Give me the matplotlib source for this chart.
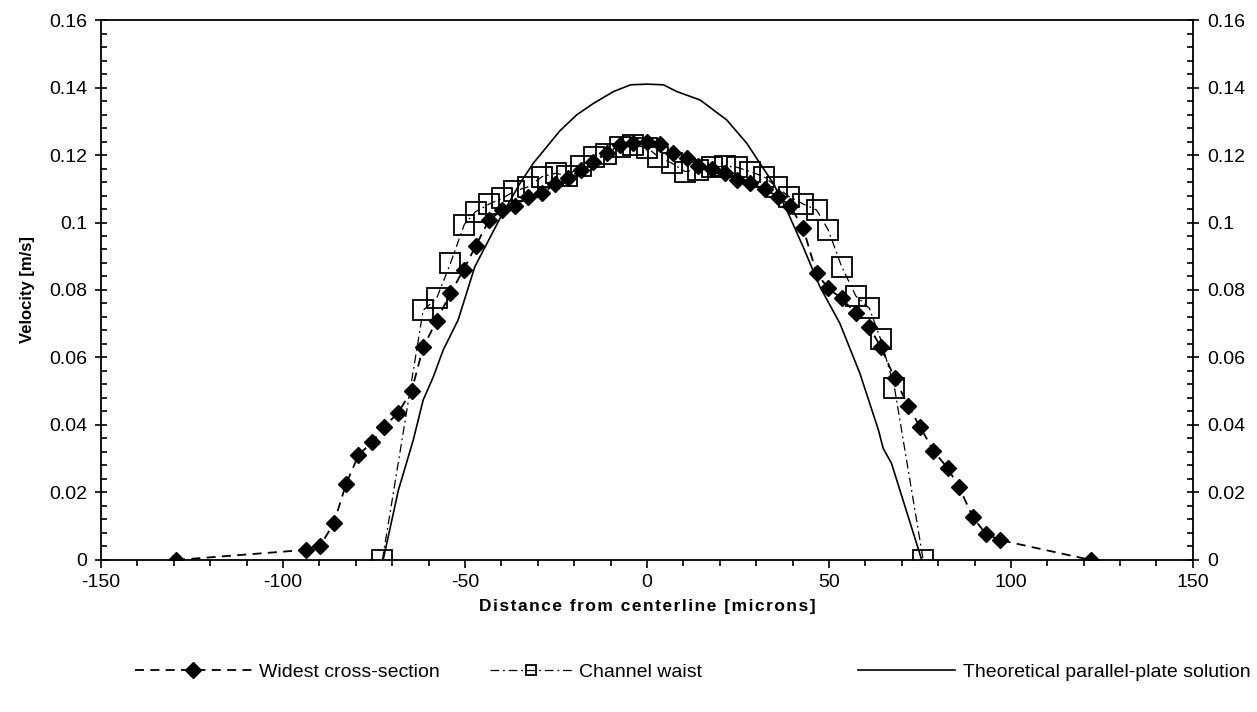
import numpy as np
import matplotlib
matplotlib.use("Agg")
from matplotlib import pyplot as plt
from matplotlib.ticker import MultipleLocator, FuncFormatter

plt.rcParams['font.family'] = ['Liberation Sans', 'DejaVu Sans']
plt.rcParams['axes.unicode_minus'] = False

# Widest cross-section (filled diamonds, dashed)
wide_x = [-129.4, -93.7, -89.8, -86.0, -82.7, -79.3, -75.5, -72.2, -68.5, -64.7,
          -61.5, -57.8, -54.0, -50.4, -47.1, -43.4, -39.8, -36.3, -32.6, -28.8,
          -25.3, -21.6, -18.0, -14.7, -11.1, -7.4, -3.8, -0.1, 3.6, 7.2,
          10.9, 14.1, 17.8, 21.4, 24.6, 28.3, 32.4, 36.1, 39.3, 42.9,
          46.6, 49.8, 53.5, 57.4, 61.1, 64.2, 68.1, 71.8, 75.0, 78.7,
          82.6, 85.8, 89.5, 93.1, 97.0, 122.0]
wide_v = [0.0, 0.003, 0.0042, 0.011, 0.0225, 0.031, 0.035, 0.0395, 0.0435, 0.050,
          0.063, 0.0709, 0.079, 0.086, 0.093, 0.1007, 0.1037, 0.105, 0.1076, 0.1087,
          0.1113, 0.1131, 0.1156, 0.118, 0.1205, 0.123, 0.1237, 0.124, 0.1233, 0.1207,
          0.119, 0.1167, 0.1158, 0.1146, 0.1126, 0.1116, 0.1099, 0.1076, 0.105, 0.0983,
          0.085, 0.0805, 0.0775, 0.0731, 0.069, 0.0632, 0.0538, 0.0456, 0.0395, 0.0324,
          0.0272, 0.0215, 0.0128, 0.0077, 0.0059, 0.0]

# Channel waist (open squares, dash-dot)
waist_x = [-72.7, -61.5, -57.8, -54.0, -50.2, -47.1, -43.3, -39.7, -36.5, -32.6,
           -28.8, -25.0, -22.1, -18.1, -14.5, -11.3, -7.4, -3.8, 0.0, 3.1,
           6.8, 10.4, 14.1, 17.8, 21.4, 24.6, 28.3, 32.1, 35.8, 39.1,
           42.9, 46.6, 49.8, 53.5, 57.4, 61.1, 64.2, 68.0, 75.9]
waist_v = [0.0, 0.074, 0.0775, 0.0879, 0.0994, 0.1032, 0.1055, 0.1072, 0.1092, 0.1106,
           0.1136, 0.1146, 0.1138, 0.1167, 0.1193, 0.1203, 0.1225, 0.123, 0.1222, 0.1195,
           0.1176, 0.1151, 0.1156, 0.1164, 0.1167, 0.1164, 0.1151, 0.1136, 0.1104, 0.1076,
           0.1055, 0.1037, 0.0978, 0.0869, 0.0782, 0.0746, 0.0654, 0.0511, 0.0]

# Theoretical parallel-plate solution (solid)
theo_x = [-72.5, -68.3, -64.2, -61.5, -58.7, -56.0, -51.9, -47.3, -40.4, -34.9,
          -31.2, -23.9, -19.3, -14.7, -9.2, -4.5, 0.0, 4.5, 8.2, 14.6,
          21.9, 27.4, 31.0, 34.7, 38.4, 42.9, 47.5, 53.0, 58.5, 63.6,
          64.9, 67.2, 75.5]
theo_v = [0.0, 0.0207, 0.0356, 0.0474, 0.0543, 0.0622, 0.0711, 0.0869, 0.1012, 0.1116,
          0.1176, 0.1272, 0.1319, 0.1353, 0.1388, 0.1408, 0.141, 0.1408, 0.1388, 0.1363,
          0.1304, 0.1235, 0.1176, 0.1116, 0.1037, 0.0928, 0.081, 0.0701, 0.0553, 0.0385,
          0.0331, 0.0286, 0.0]

fig = plt.figure(figsize=(12.57, 7.12), dpi=100)
ax = fig.add_axes([0.0804, 0.2135, 0.8686, 0.7584])

l1, = ax.plot(wide_x, wide_v, color='black', lw=1.3, ls=(0, (5, 3.5)),
              marker='D', ms=8, mfc='black', mec='black', zorder=3)
l2, = ax.plot(waist_x, waist_v, color='black', lw=0.9, ls=(0, (7, 3, 1.5, 3)),
              marker='s', ms=14, mfc='none', mec='black', mew=1.3, zorder=2)
l3, = ax.plot(theo_x, theo_v, color='black', lw=1.2, ls='-', zorder=2)

ax.set_xlim(-150, 150)
ax.set_ylim(0, 0.16)
ax.xaxis.set_major_locator(MultipleLocator(50))
ax.xaxis.set_minor_locator(MultipleLocator(10))
ax.yaxis.set_major_locator(MultipleLocator(0.02))
ax.yaxis.set_minor_locator(MultipleLocator(0.004))
fmt = FuncFormatter(lambda v, p: f"{v:g}" if abs(v) > 1e-9 else "0")
ax.yaxis.set_major_formatter(fmt)

ax.tick_params(axis='x', which='major', direction='out', length=6, width=1.2,
               labelsize=14, pad=4)
ax.tick_params(axis='x', which='minor', direction='out', length=4, width=1.2)
ax.tick_params(axis='y', which='major', direction='inout', length=8, width=1.2,
               labelsize=14, left=True, right=True, labelleft=True, labelright=True,
               pad=6)
ax.tick_params(axis='y', which='minor', direction='in', length=4, width=1.2,
               left=True, right=True)
for s in ax.spines.values():
    s.set_linewidth(1.3)

# the original x label is letter-spaced; hair spaces imitate that
xlab = 'Distance from centerline [microns]'
ax.set_xlabel('\u200a'.join(xlab), fontsize=12.5, fontweight='bold', labelpad=6)
ax.set_ylabel('Velocity [m/s]', fontsize=12, fontweight='bold', labelpad=10)

# three legend entries, spread out like the original
leg_kw = dict(frameon=False, fontsize=14, handletextpad=0.4,
              loc='center left', borderaxespad=0, borderpad=0)
ly = 1 - 672 / 712
fig.legend([l1], ['Widest cross-section'], bbox_to_anchor=(135 / 1257, ly),
           handlelength=6.0, **leg_kw)
fig.legend([l2], ['Channel waist'], bbox_to_anchor=(490 / 1257, ly),
           handlelength=4.2, markerscale=0.55, **leg_kw)
fig.legend([l3], ['Theoretical parallel-plate solution'],
           bbox_to_anchor=(858 / 1257, ly), handlelength=5.0, **leg_kw)

fig.savefig('out.png', dpi=100)
